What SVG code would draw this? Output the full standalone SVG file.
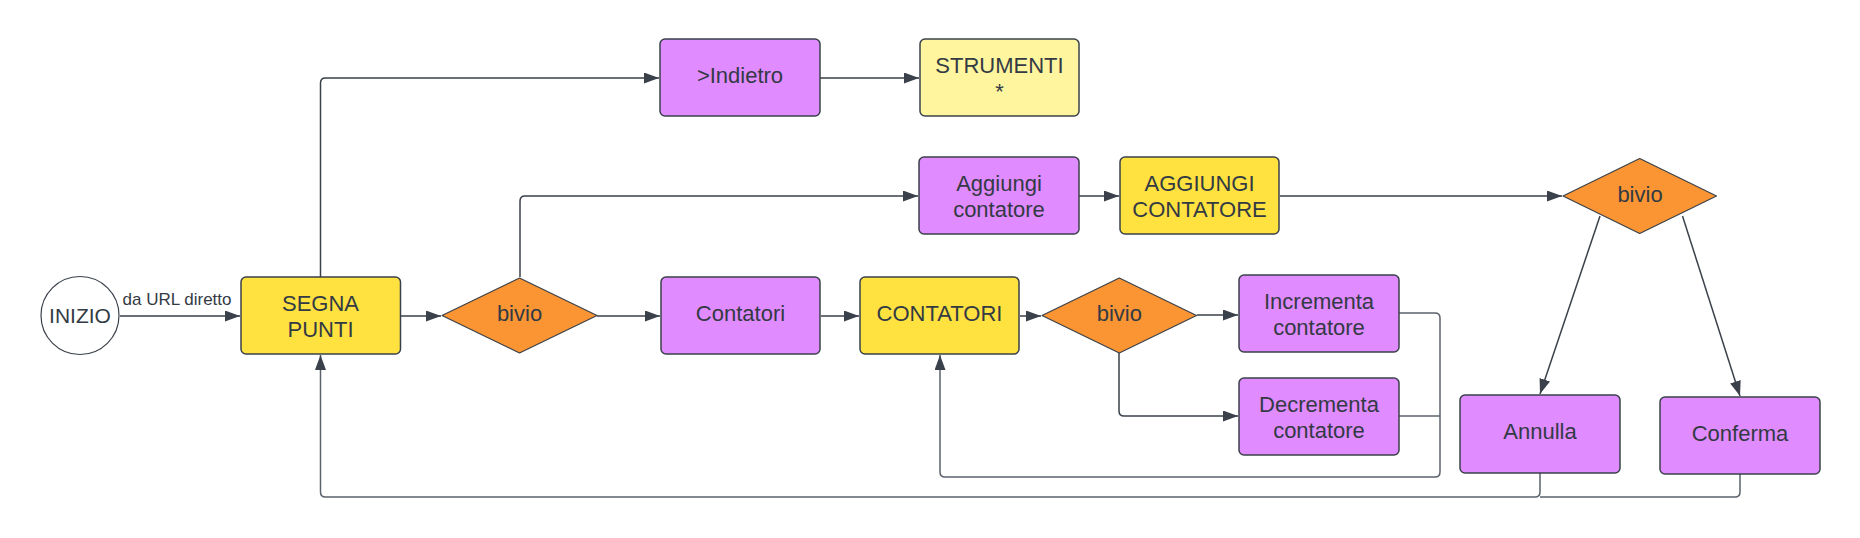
<svg xmlns="http://www.w3.org/2000/svg" width="1860" height="538" viewBox="0 0 1860 538">
<defs>
<style>
.box{stroke:#3a414a;stroke-width:1.5}
.p{fill:#e08bff}
.y{fill:#ffe23f}
.ly{fill:#fff59e}
.d{fill:#fb9533;stroke:#3a414a;stroke-width:1.2;stroke-linejoin:round}
.t{font-family:"Liberation Sans",Arial,sans-serif;font-size:22px;fill:#333a44;text-anchor:middle}
.lbl{font-family:"Liberation Sans",Arial,sans-serif;font-size:17px;fill:#333a44;text-anchor:middle}
.c{fill:none;stroke:#3a414a;stroke-width:1.5}
.c2{fill:none;stroke:#5c636d;stroke-width:1.5}
</style>
<marker id="arr" markerUnits="userSpaceOnUse" markerWidth="16" markerHeight="12" refX="15" refY="5.5" orient="auto">
<path d="M0,0 L15,5.5 L0,11 Z" fill="#3a414a"/>
</marker>
</defs>
<rect width="1860" height="538" fill="#ffffff"/>

<g id="connectors">
<path class="c" d="M120,316 H240" marker-end="url(#arr)"/>
<text class="lbl" x="177" y="305">da URL diretto</text>
<path class="c" d="M320.5,277 V83 Q320.5,78 325.5,78 H659" marker-end="url(#arr)"/>
<path class="c" d="M820,78 H919" marker-end="url(#arr)"/>
<path class="c" d="M401,316 H441" marker-end="url(#arr)"/>
<path class="c" d="M520,277 V201 Q520,196 525,196 H918" marker-end="url(#arr)"/>
<path class="c" d="M1079,196 H1119" marker-end="url(#arr)"/>
<path class="c" d="M1280,196 H1562" marker-end="url(#arr)"/>
<path class="c" d="M597,316 H660" marker-end="url(#arr)"/>
<path class="c" d="M821,316 H859" marker-end="url(#arr)"/>
<path class="c" d="M1020,316 H1041" marker-end="url(#arr)"/>
<path class="c" d="M1197,315 H1238" marker-end="url(#arr)"/>
<path class="c" d="M1119,353 V411 Q1119,416 1124,416 H1238" marker-end="url(#arr)"/>
<path class="c2" d="M1399,313 H1435 Q1440,313 1440,318 V472 Q1440,477 1435,477 H945 Q940,477 940,472 V355" marker-end="url(#arr)"/>
<path class="c2" d="M1399,416 H1440"/>
<path class="c" d="M1600,216 L1540,394" marker-end="url(#arr)"/>
<path class="c" d="M1682.5,216 L1740,396" marker-end="url(#arr)"/>
<path class="c2" d="M1540,473 V492 Q1540,497 1535,497 H325.5 Q320.5,497 320.5,492 V355" marker-end="url(#arr)"/>
<path class="c2" d="M1740,474 V492 Q1740,497 1735,497 H1540"/>
</g>

<g id="inizio">
<circle cx="80" cy="315.5" r="39" fill="#ffffff" stroke="#3a414a" stroke-width="1.2"/>
<text class="t" x="80" y="323" style="font-size:21px">INIZIO</text>
</g>

<g id="segna-punti">
<rect class="box y" x="241" y="277" width="159.5" height="77" rx="5"/>
<text class="t" x="320.5" y="310.5">SEGNA</text>
<text class="t" x="320.5" y="336.5">PUNTI</text>
</g>

<g id="indietro">
<rect class="box p" x="660" y="39" width="160" height="77" rx="5"/>
<text class="t" x="740" y="83">&gt;Indietro</text>
</g>

<g id="strumenti">
<rect class="box ly" x="920" y="39" width="159" height="77" rx="5"/>
<text class="t" x="999.5" y="73">STRUMENTI</text>
<text class="t" x="999.5" y="99">*</text>
</g>

<g id="bivio1">
<polygon class="d" points="442,315.5 519.5,278 597,315.5 519.5,353"/>
<text class="t" x="519.5" y="321">bivio</text>
</g>

<g id="aggiungi-contatore">
<rect class="box p" x="919" y="157" width="160" height="77" rx="5"/>
<text class="t" x="999" y="191">Aggiungi</text>
<text class="t" x="999" y="217">contatore</text>
</g>

<g id="aggiungi-contatore-screen">
<rect class="box y" x="1120" y="157" width="159" height="77" rx="5"/>
<text class="t" x="1199.5" y="191">AGGIUNGI</text>
<text class="t" x="1199.5" y="217">CONTATORE</text>
</g>

<g id="bivio3">
<polygon class="d" points="1563,196 1639.7,158.5 1716.5,196 1639.7,233.5"/>
<text class="t" x="1640" y="202">bivio</text>
</g>

<g id="contatori">
<rect class="box p" x="661" y="277" width="159" height="77" rx="5"/>
<text class="t" x="740.5" y="321">Contatori</text>
</g>

<g id="contatori-screen">
<rect class="box y" x="860" y="277" width="159" height="77" rx="5"/>
<text class="t" x="939.5" y="321">CONTATORI</text>
</g>

<g id="bivio2">
<polygon class="d" points="1042,315.5 1119.3,278 1196.5,315.5 1119.3,353"/>
<text class="t" x="1119.3" y="321">bivio</text>
</g>

<g id="incrementa">
<rect class="box p" x="1239" y="275" width="160" height="77" rx="5"/>
<text class="t" x="1319" y="308.5">Incrementa</text>
<text class="t" x="1319" y="334.5">contatore</text>
</g>

<g id="decrementa">
<rect class="box p" x="1239" y="378" width="160" height="77" rx="5"/>
<text class="t" x="1319" y="411.5">Decrementa</text>
<text class="t" x="1319" y="437.5">contatore</text>
</g>

<g id="annulla">
<rect class="box p" x="1460" y="395" width="160" height="78" rx="5"/>
<text class="t" x="1540" y="439">Annulla</text>
</g>

<g id="conferma">
<rect class="box p" x="1660" y="397" width="160" height="77" rx="5"/>
<text class="t" x="1740" y="441">Conferma</text>
</g>
</svg>
